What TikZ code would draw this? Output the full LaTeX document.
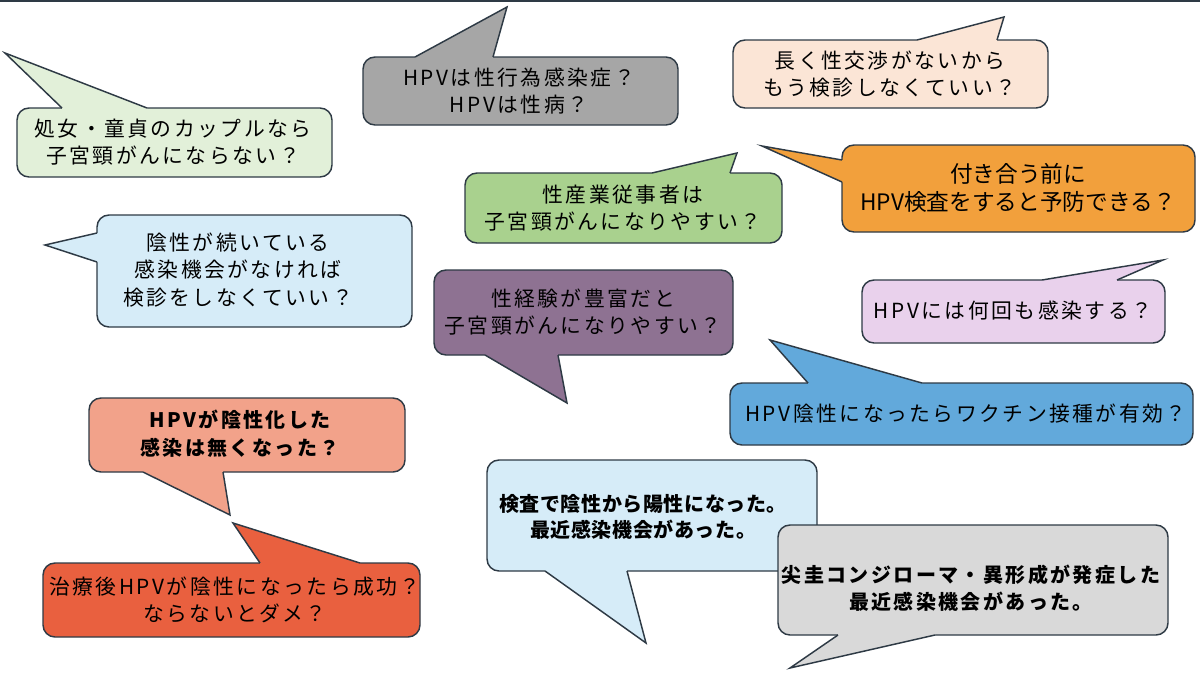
\documentclass[tikz,border=0pt]{standalone}
\usepackage{fontspec}
\setmainfont{Noto Sans CJK JP}
\newfontfamily\jpspaced[LetterSpace=12]{Noto Sans CJK JP}
\newfontfamily\jptight[LetterSpace=3]{Noto Sans CJK JP}
\definecolor{edge}{HTML}{2E3A45}
\definecolor{paleGreen}{HTML}{E2F0D9}
\definecolor{midGray}{HTML}{A6A6A6}
\definecolor{peach}{HTML}{FBE5D6}
\definecolor{leafGreen}{HTML}{A9D18E}
\definecolor{orangeQ}{HTML}{F2A03C}
\definecolor{skyPale}{HTML}{D6ECF8}
\definecolor{mauve}{HTML}{8E7292}
\definecolor{lilac}{HTML}{E9D1EC}
\definecolor{blueQ}{HTML}{62A9DB}
\definecolor{salmon}{HTML}{F2A28A}
\definecolor{redQ}{HTML}{E9603F}
\definecolor{lightGray}{HTML}{D9D9D9}

\begin{document}
\begin{tikzpicture}[x=0.75pt,y=0.75pt,yscale=-1,xscale=1,
  box/.style={draw=edge, line width=1.1pt, rounded corners=9pt},
  tailedge/.style={draw=edge, line width=1.1pt, line join=miter},
  txt/.style={align=center, inner sep=0.75pt, font=\fontsize{15.6}{20.5}\jpspaced}]
\useasboundingbox (0,0) rectangle (1200,675);
%top rule
\draw [edge, line width=1.5pt] (0,0.5) -- (1200,0.5);

%Shape: Speech bubble (top left)
\draw [box, fill=paleGreen] (17,108) rectangle (332,177);
\fill [paleGreen] (62,108) -- (5,53) -- (147,108) -- (147,111) -- (62,111) -- cycle;
\draw [tailedge] (62,108) -- (5,53) -- (147,108);
% Text Node
\node (virgin) at (173,142) [txt] {処女・童貞のカップルなら\\子宮頸がんにならない？};

%Shape: Speech bubble (gray)
\draw [box, fill=midGray] (363,57) rectangle (678,125);
\fill [midGray] (415,57) -- (507,7) -- (493,57) -- (493,60) -- (415,60) -- cycle;
\draw [tailedge] (415,57) -- (507,7) -- (493,57);
% Text Node
\node (sti) at (519,91) [txt] {HPVは性行為感染症？\\HPVは性病？};

%Shape: Speech bubble (peach)
\draw [box, fill=peach] (733,40) rectangle (1048,108);
\fill [peach] (917,40) -- (1004,17) -- (997,40) -- (997,43) -- (917,43) -- cycle;
\draw [tailedge] (917,40) -- (1004,17) -- (997,40);
% Text Node
\node (longgap) at (890,74) [txt] {長く性交渉がないから\\もう検診しなくていい？};

%Shape: Speech bubble (green)
\draw [box, fill=leafGreen] (465,173) rectangle (782,243);
\fill [leafGreen] (652,173) -- (737,153) -- (730,173) -- (730,176) -- (652,176) -- cycle;
\draw [tailedge] (652,173) -- (737,153) -- (730,173);
% Text Node
\node (sexwork) at (623,208) [txt] {性産業従事者は\\子宮頸がんになりやすい？};

%Shape: Speech bubble (orange)
\draw [box, fill=orangeQ] (842,145) rectangle (1195,232);
\fill [orangeQ] (842,160) -- (762,146) -- (842,182) -- (845,182) -- (845,160) -- cycle;
\draw [tailedge] (842,160) -- (762,146) -- (842,182);
% Text Node
\node (pretest) at (1018,188) [align=center, inner sep=0.75pt, font=\fontsize{17}{21}\selectfont] {付き合う前に\\HPV検査をすると予防できる？};

%Shape: Speech bubble (pale blue, left)
\draw [box, fill=skyPale] (97,215) rectangle (412,327);
\fill [skyPale] (97,233) -- (45,245) -- (97,262) -- (100,262) -- (100,233) -- cycle;
\draw [tailedge] (97,233) -- (45,245) -- (97,262);
% Text Node
\node (negative) at (238,270) [txt] {陰性が続いている\\感染機会がなければ\\検診をしなくていい？};

%Shape: Speech bubble (mauve)
\draw [box, fill=mauve] (434,270) rectangle (733,355);
\fill [mauve] (485,355) -- (567,403) -- (558,355) -- (558,352) -- (485,352) -- cycle;
\draw [tailedge] (485,355) -- (567,403) -- (558,355);
% Text Node
\node (experience) at (583,312) [txt] {性経験が豊富だと\\子宮頸がんになりやすい？};

%Shape: Speech bubble (lilac)
\draw [box, fill=lilac] (862,280) rectangle (1165,343);
\fill [lilac] (1042,280) -- (1163,260) -- (1117,280) -- (1117,283) -- (1042,283) -- cycle;
\draw [tailedge] (1042,280) -- (1163,260) -- (1117,280);
% Text Node
\node (reinfect) at (1013,311) [txt] {HPVには何回も感染する？};

%Shape: Speech bubble (blue)
\draw [box, fill=blueQ] (730,383) rectangle (1193,445);
\fill [blueQ] (808,383) -- (770,340) -- (922,383) -- (922,386) -- (808,386) -- cycle;
\draw [tailedge] (808,383) -- (770,340) -- (922,383);
% Text Node
\node (vaccine) at (966,414) [txt] {HPV陰性になったらワクチン接種が有効？};

%Shape: Speech bubble (salmon)
\draw [box, fill=salmon] (89,398) rectangle (405,472);
\fill [salmon] (143,472) -- (230,515) -- (223,472) -- (223,469) -- (143,469) -- cycle;
\draw [tailedge] (143,472) -- (230,515) -- (223,472);
% Text Node
\node (cleared) at (240,434) [txt, font=\fontsize{15}{21}\jpspaced\bfseries] {HPVが陰性化した\\感染は無くなった？};

%Shape: Speech bubble (red)
\draw [box, fill=redQ] (43,563) rectangle (420,637);
\fill [redQ] (260,563) -- (233,523) -- (360,563) -- (360,566) -- (260,566) -- cycle;
\draw [tailedge] (260,563) -- (233,523) -- (360,563);
% Text Node
\node (treated) at (235,600) [txt] {治療後HPVが陰性になったら成功？\\ならないとダメ？};

%Shape: Speech bubble (pale blue, bottom)
\draw [box, fill=skyPale] (487,460) rectangle (817,571);
\fill [skyPale] (545,571) -- (646,643) -- (627,571) -- (627,568) -- (545,568) -- cycle;
\draw [tailedge] (545,571) -- (646,643) -- (627,571);
% Text Node
\node (converted) at (643,517) [txt, font=\fontsize{15}{19}\jptight\bfseries] {検査で陰性から陽性になった。\\最近感染機会があった。};

%Shape: Speech bubble (light gray)
\draw [box, fill=lightGray] (778,525) rectangle (1168,635);
\fill [lightGray] (838,635) -- (790,668) -- (935,635) -- (935,632) -- (838,632) -- cycle;
\draw [tailedge] (838,635) -- (790,668) -- (935,635);
% Text Node
\node (condyloma) at (971,588) [txt, font=\fontsize{15}{20}\jpspaced\bfseries] {尖圭コンジローマ・異形成が発症した\\最近感染機会があった。};

\end{tikzpicture}
\end{document}
